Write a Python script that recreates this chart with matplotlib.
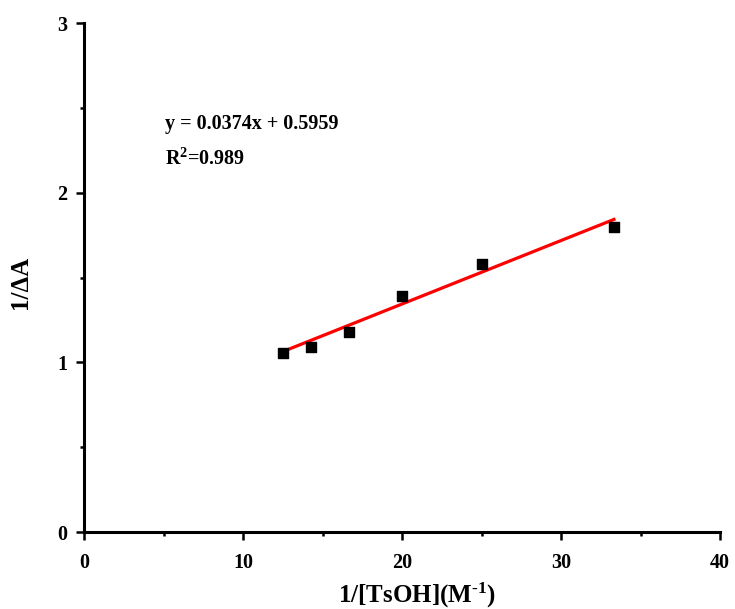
import numpy as np
import matplotlib
matplotlib.use("Agg")
import matplotlib.pyplot as plt
from matplotlib.ticker import MultipleLocator

# Double-reciprocal data: 1/[TsOH] (M^-1) versus 1/ΔA
inv_conc = [12.5, 14.29, 16.67, 20.0, 25.0, 33.33]
inv_dA = [1.053, 1.092, 1.18, 1.393, 1.578, 1.795]

# Linear fit reported on the plot
slope = 0.0374
intercept = 0.5959
r_squared = 0.989

plt.rcParams["font.family"] = ["Liberation Serif", "DejaVu Serif"]
plt.rcParams["font.weight"] = "bold"
plt.rcParams["mathtext.fontset"] = "custom"
plt.rcParams["mathtext.rm"] = "Liberation Serif:bold"
plt.rcParams["mathtext.default"] = "rm"

fig = plt.figure(figsize=(7.35, 6.09), dpi=100)
ax = fig.add_axes([0.1143, 0.1264, 0.8653, 0.8358])

ax.scatter(inv_conc, inv_dA, marker="s", s=50, color="black", zorder=3)

fit_x = np.array([min(inv_conc), max(inv_conc)])
ax.plot(fit_x, slope * fit_x + intercept, color="red", lw=2.3, zorder=2)

ax.set_xlim(0, 40)
ax.set_ylim(0, 3)
ax.xaxis.set_major_locator(MultipleLocator(10))
ax.xaxis.set_minor_locator(MultipleLocator(5))
ax.yaxis.set_major_locator(MultipleLocator(1))
ax.yaxis.set_minor_locator(MultipleLocator(0.5))

for side in ("top", "right"):
    ax.spines[side].set_visible(False)
for side in ("left", "bottom"):
    ax.spines[side].set_linewidth(2.2)

ax.tick_params(which="major", direction="out", length=6, width=1.8,
               labelsize=14.5)
ax.tick_params(which="minor", direction="out", length=3, width=1.8)
ax.tick_params(axis="x", which="major", pad=9)
ax.tick_params(axis="y", which="major", pad=6)
for lbl in ax.get_xticklabels() + ax.get_yticklabels():
    lbl.set_fontweight("bold")

ax.set_xlabel(r"1/[TsOH](M$^{\text{-1}}$)", fontsize=18, fontweight="bold")
ax.xaxis.set_label_coords(0.524, -0.095)
ax.set_ylabel("1/ΔA", fontsize=18, fontweight="bold")
ax.yaxis.set_label_coords(-0.082, 0.49)

ax.text(0.127, 0.792, f"y = {slope}x + {intercept}", transform=ax.transAxes,
        fontsize=14.5, fontweight="bold", ha="left", va="baseline")
ax.text(0.127, 0.721, f"R$^{{2}}$={r_squared}", transform=ax.transAxes,
        fontsize=14.5, fontweight="bold", ha="left", va="baseline")

fig.savefig("out.png", dpi=100)
